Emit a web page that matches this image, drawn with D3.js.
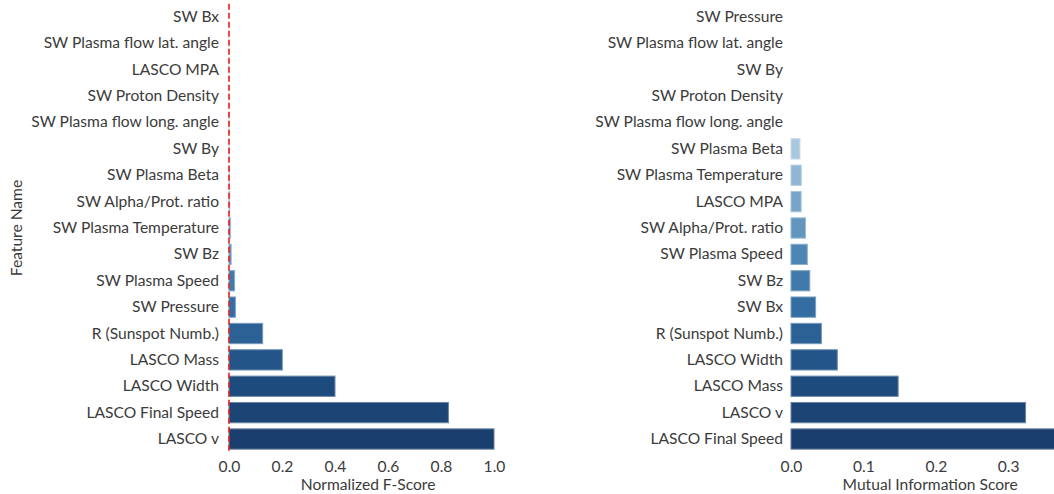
<!DOCTYPE html>
<html>
<head>
<meta charset="utf-8">
<script src="https://cdn.jsdelivr.net/npm/d3@7"></script>
<style>
  html, body { margin: 0; padding: 0; background: #fff; }
  svg { display: block; font-family: Lato, "Open Sans", sans-serif; }
  text { fill: #3b3b3b; }
</style>
</head>
<body>
<svg id="chart" width="1054" height="494"></svg>
<script>
// Feature rankings: F-test (normalized) and mutual information
const fFeatures = ["SW Bx", "SW Plasma flow lat. angle", "LASCO MPA", "SW Proton Density",
  "SW Plasma flow long. angle", "SW By", "SW Plasma Beta", "SW Alpha/Prot. ratio",
  "SW Plasma Temperature", "SW Bz", "SW Plasma Speed", "SW Pressure", "R (Sunspot Numb.)",
  "LASCO Mass", "LASCO Width", "LASCO Final Speed", "LASCO v"];
const fScores = [0.0, 0.0002, 0.0004, 0.0006, 0.0008, 0.001, 0.0015, 0.003,
  0.006, 0.008, 0.021, 0.024, 0.127, 0.201, 0.40, 0.828, 1.0];

const miFeatures = ["SW Pressure", "SW Plasma flow lat. angle", "SW By", "SW Proton Density",
  "SW Plasma flow long. angle", "SW Plasma Beta", "SW Plasma Temperature", "LASCO MPA",
  "SW Alpha/Prot. ratio", "SW Plasma Speed", "SW Bz", "SW Bx", "R (Sunspot Numb.)",
  "LASCO Width", "LASCO Mass", "LASCO v", "LASCO Final Speed"];
const miScores = [0, 0, 0, 0, 0, 0.0124, 0.0142, 0.014, 0.020, 0.0225, 0.026,
  0.034, 0.042, 0.064, 0.148, 0.324, 0.366];

const fTicks = [0, 0.2, 0.4, 0.6, 0.8, 1.0];
const miTicks = [0, 0.1, 0.2, 0.3];

// light-to-dark blue ramp, one colour per rank
const rampStops = ["#e6eff7", "#cadcec", "#b4cfe2", "#7aa7ca", "#4a84b4", "#2f689c", "#1f4d80", "#1a3e6d"];
const palette = d3.quantize(d3.piecewise(d3.interpolateRgb, rampStops), 17);

const svg = d3.select("#chart");
const plotTop = 3.8, plotBottom = 452.2;
const fontSize = "15.6px";

function panel(features, scores, ticks, x0, xMax, perUnit, labelGap, title, zeroLine) {
  const width = xMax * perUnit;
  const x = d3.scaleLinear().domain([0, xMax]).range([x0, x0 + width]);
  const y = d3.scaleBand().domain(features).range([plotTop, plotBottom])
    .paddingInner(0.23).paddingOuter(0.115);
  const g = svg.append("g");

  g.selectAll("rect.bar").data(features).join("rect")
    .attr("class", "bar")
    .attr("x", x(0))
    .attr("y", d => y(d))
    .attr("width", (d, i) => x(scores[i]) - x(0))
    .attr("height", y.bandwidth())
    .attr("fill", (d, i) => palette[i])
    .attr("stroke", (d, i) => d3.interpolateRgb(palette[i], "#ffffff")(0.35))
    .attr("stroke-width", 1);

  // category labels
  const yAxis = d3.axisLeft(y).tickSize(0).tickPadding(labelGap);
  const ya = g.append("g").attr("transform", `translate(${x(0)},0)`).call(yAxis);
  ya.select(".domain").remove();
  ya.selectAll("text").style("font-size", fontSize).style("fill", "#3b3b3b")
    .attr("font-family", "Lato, sans-serif");

  // value axis
  const xAxis = d3.axisBottom(x).tickValues(ticks).tickSize(0).tickPadding(7)
    .tickFormat(d3.format(".1f"));
  const xa = g.append("g").attr("transform", `translate(0,${plotBottom + 2})`).call(xAxis);
  xa.select(".domain").remove();
  xa.selectAll("text").style("font-size", fontSize).style("fill", "#3b3b3b")
    .attr("font-family", "Lato, sans-serif");

  g.append("text")
    .attr("x", x0 + width / 2).attr("y", 490)
    .attr("text-anchor", "middle")
    .style("font-size", fontSize)
    .text(title);

  if (zeroLine) {
    g.append("line")
      .attr("x1", x(0)).attr("x2", x(0))
      .attr("y1", plotTop).attr("y2", plotBottom)
      .attr("stroke", "#ee1c1c").attr("stroke-width", 1.6)
      .attr("stroke-dasharray", "6,3");
  }
}

panel(fFeatures, fScores, fTicks, 229, 1.05, 265, 10, "Normalized F-Score", true);
panel(miFeatures, miScores, miTicks, 791, 0.3843, 724, 8, "Mutual Information Score", false);

svg.append("text")
  .attr("transform", `translate(22,${(plotTop + plotBottom) / 2}) rotate(-90)`)
  .attr("text-anchor", "middle")
  .style("font-size", fontSize)
  .text("Feature Name");
</script>
</body>
</html>
